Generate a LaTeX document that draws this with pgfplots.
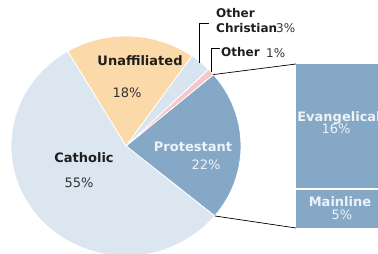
\documentclass[border=0pt]{standalone}
\usepackage{pgfplots}
\pgfplotsset{compat=1.18}
\usepackage{pgfplotstable}
\usepackage{fontspec}
\setmainfont{DejaVu Sans}

\definecolor{cath}{HTML}{DCE6F1}
\definecolor{unaf}{HTML}{FCD9A8}
\definecolor{prot}{HTML}{84A8C6}
\definecolor{ochr}{HTML}{D8E4F0}
\definecolor{oth}{HTML}{F6C6C8}
\definecolor{lab}{HTML}{1E1E1E}
\definecolor{pct}{HTML}{333333}
\definecolor{wtxt}{HTML}{EEF3F8}

% pie data (percent), counter-clockwise from the Protestant slice
\pgfplotstableread{
name value
Protestant 22
Other 1
OtherChristian 3
Unaffiliated 18
Catholic 55
}\piedata
% bar-of-pie data
\pgfplotstableread{
x value
338 5
}\barmain
\pgfplotstableread{
x value
338 16
}\barevan

\pgfplotstablegetelem{0}{value}\of\piedata \let\vP\pgfplotsretval
\pgfplotstablegetelem{1}{value}\of\piedata \let\vO\pgfplotsretval
\pgfplotstablegetelem{2}{value}\of\piedata \let\vC\pgfplotsretval
\pgfplotstablegetelem{3}{value}\of\piedata \let\vU\pgfplotsretval
\pgfplotstablegetelem{4}{value}\of\piedata \let\vK\pgfplotsretval
\pgfmathsetmacro\vT{\vP+\vO+\vC+\vU+\vK}
\pgfmathsetmacro\aS{-39.5}
\pgfmathsetmacro\aP{\aS+\vP/\vT*360}
\pgfmathsetmacro\aO{\aP+\vO/\vT*360}
\pgfmathsetmacro\aC{\aO+\vC/\vT*360}
\pgfmathsetmacro\aU{\aC+\vU/\vT*360}
\pgfmathsetmacro\aK{\aU+\vK/\vT*360}

\newcommand\pieslice[3]{%
  \fill[#3, draw=white, line width=0.8pt]
   (axis cs:{126+115*cos(#1)},{108+110*sin(#1)})
   arc[start angle=#1, end angle=#2, x radius=115pt, y radius=110pt]
   -- (axis cs:126,108) -- cycle;}

\begin{document}
\begin{tikzpicture}
% bar of pie
\begin{axis}[hide axis, scale only axis, x=1pt, y=7.81pt,
  xmin=0, xmax=378, ymin=-3.329, ymax=29.19,
  ybar stacked, bar width=84pt, clip=true]
\addplot[fill=prot, draw=none] table[x=x, y=value] {\barmain};
\addplot[fill=prot, draw=none] table[x=x, y=value] {\barevan};
\end{axis}
% pie
\begin{axis}[hide axis, scale only axis, x=1pt, y=1pt,
  xmin=0, xmax=378, ymin=0, ymax=254, clip=false]
\coordinate (ll) at (axis cs:0,0);
\coordinate (ur) at (axis cs:378,254);
\pieslice{\aS}{\aP}{prot}
\pieslice{\aP}{\aO}{oth}
\pieslice{\aO}{\aC}{ochr}
\pieslice{\aC}{\aU}{unaf}
\pieslice{\aU}{\aK}{cath}
% separator in bar
\draw[white, line width=1.2pt] (axis cs:296,65) -- (axis cs:380,65);
% connectors
\draw[black, line width=0.7pt] (axis cs:{126+115*cos(\aP)},{108+110*sin(\aP)}) -- (axis cs:296,190);
\draw[black, line width=0.7pt] (axis cs:{126+115*cos(\aS)},{108+110*sin(\aS)}) -- (axis cs:296,26);
% leader lines
\draw[black, line width=0.7pt] (axis cs:199,191) -- (axis cs:199,231) -- (axis cs:209,231);
\draw[black, line width=0.7pt] (axis cs:211,182) -- (axis cs:211,206) -- (axis cs:220,206);
% labels
\node[font=\bfseries\fontsize{13}{15}\selectfont, text=lab] at (axis cs:140,193) {Unaffiliated};
\node[font=\fontsize{13}{15}\selectfont, text=pct] at (axis cs:127,161) {18\%};
\node[font=\bfseries\fontsize{13}{15}\selectfont, text=lab] at (axis cs:84,96) {Catholic};
\node[font=\fontsize{13}{15}\selectfont, text=pct] at (axis cs:79,71) {55\%};
\node[font=\bfseries\fontsize{13}{15}\selectfont, text=wtxt] at (axis cs:193,107) {Protestant};
\node[font=\fontsize{13}{15}\selectfont, text=wtxt] at (axis cs:206,89) {22\%};
\node[font=\bfseries\fontsize{12}{14}\selectfont, text=lab, anchor=west, inner sep=0pt] at (axis cs:216,241) {Other};
\node[font=\bfseries\fontsize{12}{14}\selectfont, text=lab, anchor=west, inner sep=0pt] at (axis cs:216,226) {Christian};
\node[font=\fontsize{12}{14}\selectfont, text=pct, anchor=west, inner sep=0pt] at (axis cs:276,226) {3\%};
\node[font=\bfseries\fontsize{12}{14}\selectfont, text=lab, anchor=west, inner sep=0pt] at (axis cs:221,202) {Other};
\node[font=\fontsize{12}{14}\selectfont, text=pct, anchor=west, inner sep=0pt] at (axis cs:266,201) {1\%};
\node[font=\bfseries\fontsize{13}{15}\selectfont, text=wtxt] at (axis cs:339,136) {Evangelical};
\node[font=\fontsize{13}{15}\selectfont, text=wtxt] at (axis cs:336,125) {16\%};
\node[font=\bfseries\fontsize{13}{15}\selectfont, text=wtxt] at (axis cs:340,52) {Mainline};
\node[font=\fontsize{13}{15}\selectfont, text=wtxt] at (axis cs:342,39) {5\%};
\end{axis}
\pgfresetboundingbox
\useasboundingbox (ll) rectangle (ur);
\end{tikzpicture}
\end{document}
